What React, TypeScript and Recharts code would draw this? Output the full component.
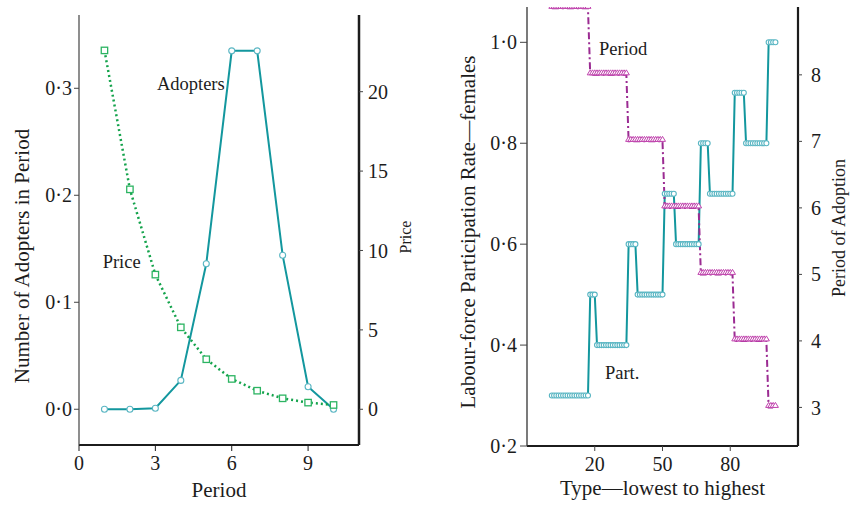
import { LineChart, Line, XAxis, YAxis, ReferenceDot } from 'recharts';

// left panel: adopters and price by period
const periods = [1, 2, 3, 4, 5, 6, 7, 8, 9, 10];
const adopters = [0, 0, 0.001, 0.027, 0.136, 0.335, 0.335, 0.144, 0.021, 0];
const prices = [22.6, 13.85, 8.48, 5.16, 3.15, 1.91, 1.17, 0.69, 0.42, 0.27];

const periodTicks = [0, 3, 6, 9];
const adopterTicks = [0, 0.1, 0.2, 0.3];
const priceTicks = [0, 5, 10, 15, 20];

// right panel: types 1..100 (last type of each run, value)
const partRunEnds = [17, 20, 34, 38, 50, 55, 66, 70, 81, 86, 96, 100];
const partRunValues = [0.3, 0.5, 0.4, 0.6, 0.5, 0.7, 0.6, 0.8, 0.7, 0.9, 0.8, 1.0];
const adoptRunEnds = [17, 34, 50, 66, 81, 96, 100];
const adoptRunValues = [9, 8, 7, 6, 5, 4, 3];

const typeTicks = [20, 50, 80];
const partTicks = [0.2, 0.4, 0.6, 0.8, 1.0];
const adoptTicks = [3, 4, 5, 6, 7, 8];

const FONT = "'Liberation Serif', 'Times New Roman', serif";
const INK = '#1c1c1c';
const TEAL = '#13979e';
const TEAL_DOT = '#5ab6c3';
const GREEN = '#14a34c';
const GREEN_DOT = '#2cb462';
const PURPLE = '#9b2b92';
const PINK = '#c043ad';

const leftData = periods.map((p, i) => ({ period: p, adopters: adopters[i], price: prices[i] }));

const runValue = (ends: number[], values: number[], t: number) => values[ends.findIndex(e => t <= e)];
const typeData = Array.from({ length: partRunEnds[partRunEnds.length - 1] }, (_, i) => ({
  type: i + 1,
  part: runValue(partRunEnds, partRunValues, i + 1),
  adopt: runValue(adoptRunEnds, adoptRunValues, i + 1),
}));

const dotFmt = (v: number) => v.toFixed(1).replace('.', '·');
const tickStyle = { fill: INK, fontSize: 20, fontFamily: FONT };

const title = (text: string, x: number, y: number, size = 21) => ({
  content: () => (
    <text x={x} y={y} textAnchor="middle" fontSize={size} fontFamily={FONT} fill={INK}>{text}</text>
  ),
});
const vTitle = (text: string, x: number, y: number, size = 21) => ({
  content: () => (
    <text x={x} y={y} transform={`rotate(-90 ${x} ${y})`} textAnchor="middle" fontSize={size} fontFamily={FONT} fill={INK}>
      {text}
    </text>
  ),
});
const inner = (text: string) => ({
  content: (p: any) => {
    const vb = p.viewBox || { x: 0, y: 0 };
    return <text x={vb.x} y={vb.y} fontSize={18.5} fontFamily={FONT} fill={INK}>{text}</text>;
  },
});

const circleDot = (r: number) => (props: any) => {
  const { cx, cy, index } = props;
  if (cx == null || cy == null) return <g key={`c-${index}`} />;
  return <circle key={`c-${index}`} cx={cx} cy={cy} r={r} fill="#fff" stroke={TEAL_DOT} strokeWidth={1.1} />;
};
const squareDot = (props: any) => {
  const { cx, cy, index } = props;
  if (cx == null || cy == null) return <g key={`s-${index}`} />;
  return <rect key={`s-${index}`} x={cx - 3.2} y={cy - 3.2} width={6.4} height={6.4} fill="#fff" stroke={GREEN_DOT} strokeWidth={1.3} />;
};
const triangleDot = (props: any) => {
  const { cx, cy, index } = props;
  if (cx == null || cy == null) return <g key={`t-${index}`} />;
  return (
    <path key={`t-${index}`} d={`M${cx},${cy - 5}L${cx + 3},${cy}L${cx - 3},${cy}Z`} fill="#fff" stroke={PINK} strokeWidth={1} />
  );
};

export default function App() {
  return (
    <div style={{ position: 'absolute', left: 0, top: 0, width: 850, height: 505, background: '#fff' }}>
      <div style={{ position: 'absolute', left: 0, top: 0 }}>
        <LineChart width={430} height={505} data={leftData} margin={{ top: 15, right: 15, bottom: 30, left: 19 }}>
          <XAxis
            type="number"
            dataKey="period"
            domain={[0, 11]}
            ticks={periodTicks}
            allowDataOverflow
            height={30}
            axisLine={{ stroke: INK, strokeWidth: 2 }}
            tickLine={{ stroke: INK }}
            tickSize={6}
            tickMargin={5}
            tick={tickStyle}
            label={title('Period', 219, 497)}
          />
          <YAxis
            yAxisId="a"
            domain={[-0.0334, 0.3685]}
            ticks={adopterTicks}
            allowDataOverflow
            tickFormatter={dotFmt}
            width={60}
            axisLine={{ stroke: '#444', strokeWidth: 1.2 }}
            tickLine={{ stroke: '#444' }}
            tickSize={5}
            tickMargin={2}
            tick={tickStyle}
            label={vTitle('Number of Adopters in Period', 29, 256)}
          />
          <YAxis
            yAxisId="p"
            orientation="right"
            domain={[-2.25, 24.83]}
            ticks={priceTicks}
            allowDataOverflow
            width={56}
            axisLine={{ stroke: INK, strokeWidth: 2.5 }}
            tickLine={{ stroke: '#444' }}
            tickSize={4}
            tickMargin={5}
            tick={tickStyle}
            label={vTitle('Price', 411, 237, 16)}
          />
          <Line yAxisId="a" dataKey="adopters" stroke={TEAL} strokeWidth={2} dot={circleDot(3)} isAnimationActive={false} />
          <Line
            yAxisId="p"
            dataKey="price"
            stroke={GREEN}
            strokeWidth={2.5}
            strokeDasharray="2 3"
            dot={squareDot}
            isAnimationActive={false}
          />
          <ReferenceDot yAxisId="a" x={3.06} y={0.298} r={0} stroke="none" label={inner('Adopters')} />
          <ReferenceDot yAxisId="a" x={0.93} y={0.132} r={0} stroke="none" label={inner('Price')} />
        </LineChart>
      </div>

      <div style={{ position: 'absolute', left: 440, top: 0 }}>
        <LineChart width={410} height={505} data={typeData} margin={{ top: 7, right: 12, bottom: 29, left: 27 }}>
          <XAxis
            type="number"
            dataKey="type"
            domain={[-10, 110]}
            ticks={typeTicks}
            allowDataOverflow
            height={30}
            axisLine={{ stroke: INK, strokeWidth: 2 }}
            tickLine={{ stroke: '#444' }}
            tickSize={5}
            tickMargin={6}
            tick={tickStyle}
            label={title('Type—lowest to highest', 222.5, 495)}
          />
          <YAxis
            yAxisId="l"
            domain={[0.2, 1.07]}
            ticks={partTicks}
            allowDataOverflow
            tickFormatter={dotFmt}
            width={60}
            axisLine={{ stroke: '#333', strokeWidth: 1.3 }}
            tickLine={{ stroke: '#444' }}
            tickSize={7}
            tickMargin={3}
            tick={tickStyle}
            label={vTitle('Labour-force Participation Rate—females', 35, 232)}
          />
          <YAxis
            yAxisId="r"
            orientation="right"
            domain={[2.42, 9.02]}
            ticks={adoptTicks}
            allowDataOverflow
            width={40}
            axisLine={{ stroke: INK, strokeWidth: 2.2 }}
            tickLine={{ stroke: '#444' }}
            tickSize={4}
            tickMargin={9}
            tick={tickStyle}
            label={vTitle('Period of Adoption', 405, 228, 18)}
          />
          <Line yAxisId="l" dataKey="part" stroke={TEAL} strokeWidth={2} dot={circleDot(2.5)} isAnimationActive={false} />
          <Line
            yAxisId="r"
            dataKey="adopt"
            stroke={PURPLE}
            strokeWidth={2}
            strokeDasharray="7 3 2 3"
            dot={triangleDot}
            isAnimationActive={false}
          />
          <ReferenceDot yAxisId="l" x={21.9} y={0.975} r={0} stroke="none" label={inner('Period')} />
          <ReferenceDot yAxisId="l" x={24.5} y={0.333} r={0} stroke="none" label={inner('Part.')} />
        </LineChart>
      </div>
    </div>
  );
}
